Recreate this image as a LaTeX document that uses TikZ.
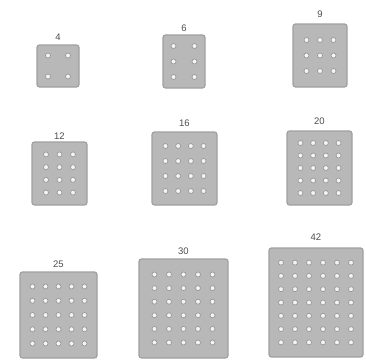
\documentclass[tikz,border=0pt]{standalone}
\usepackage{fontspec}
\setmainfont{Liberation Sans}
\definecolor{chipfill}{HTML}{B8B8B8}
\definecolor{chipline}{HTML}{A0A0A0}
\definecolor{pinline}{HTML}{999999}
\definecolor{pinfill}{HTML}{F4F4F4}
\definecolor{labcol}{HTML}{4D4D4D}
\begin{document}
\begin{tikzpicture}[x=1bp,y=-1bp,
  chip/.style={draw=chipline,fill=chipfill,line width=1.2bp,rounded corners=2.5bp,inner sep=0pt,outer sep=0pt},
  pin/.style={circle,draw=pinline,fill=pinfill,line width=0.7bp,inner sep=0pt,minimum size=5bp},
  lab/.style={text=labcol,font=\fontsize{9.5bp}{10bp}\selectfont,inner sep=0pt}]
\useasboundingbox (0,0) rectangle (366,360);
\foreach \nm/\lab/\xl/\yt/\xr/\yb/\nc/\nr/\sx/\sy/\ly in {
  a4/4/37/45/79/87/2/2/20/21/37,
  a6/6/163/35/205/88/2/3/21/15.5/28,
  a9/9/293/24/347/87/3/3/13.5/15.5/14,
  a12/12/32/142/87/205/3/4/13.5/12.7/136,
  a16/16/152/132/217/205/4/4/12.7/15/123,
  a20/20/287/131/352/205/4/5/12.7/12.5/121,
  a25/25/20/272/97/358/5/5/13/14.25/264,
  a30/30/139/259/228/358/5/6/14.5/13.6/251,
  a42/42/269/248/363/357/6/7/14/13.3/237}{
  \node[chip,minimum width={(\xr-\xl)*1bp},minimum height={(\yb-\yt)*1bp}] (\nm) at ({(\xl+\xr)/2},{(\yt+\yb)/2}) {};
  \node[lab] (\nm-lab) at ({(\xl+\xr)/2},\ly) {\lab};
  \foreach \i in {1,...,\nc}{
    \foreach \j in {1,...,\nr}{
      \node[pin] (\nm-\i-\j) at ({(\xl+\xr)/2+(\i-(\nc+1)/2)*\sx},{(\yt+\yb)/2+(\j-(\nr+1)/2)*\sy}) {};
    }
  }
}
\end{tikzpicture}
\end{document}
